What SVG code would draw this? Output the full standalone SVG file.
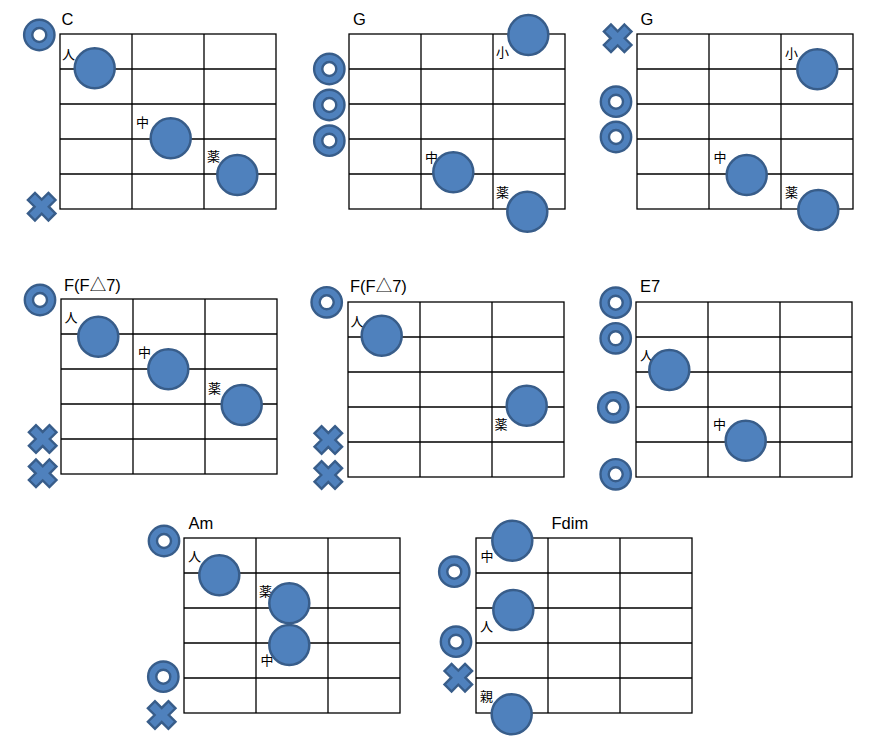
<svg xmlns="http://www.w3.org/2000/svg" xmlns:xlink="http://www.w3.org/1999/xlink" width="876" height="753" viewBox="0 0 876 753">
<style>
.grid{fill:none;stroke:#000;stroke-width:1.3}
.dot{fill:#4F81BD;stroke:#385D8A;stroke-width:2.5}
.mk{fill:#4F81BD;stroke:#385D8A;stroke-width:2.4;fill-rule:evenodd}
.lbl{font-family:"Noto Sans CJK JP","Noto Sans CJK SC",sans-serif;font-size:13px;fill:#000}
.ttl{font-family:"Liberation Sans","DejaVu Sans","Noto Sans CJK JP",sans-serif;font-size:16.5px;fill:#000}
.tri{font-family:"Noto Sans CJK JP",sans-serif}
</style>
<defs>
<g id="grid">
<rect class="grid" x="0" y="0" width="216" height="175"/>
<path class="grid" d="M72,0V175M144,0V175M0,35H216M0,70H216M0,105H216M0,140H216"/>
</g>
<path id="open" class="mk" d="M-15.2,0a15.2,15.2 0 1,0 30.4,0a15.2,15.2 0 1,0 -30.4,0ZM-7,0a7,7 0 1,0 14,0a7,7 0 1,0 -14,0Z"/>
<polygon id="x" class="mk" transform="rotate(45)" points="-5,-14.5 5,-14.5 5,-5 14.5,-5 14.5,5 5,5 5,14.5 -5,14.5 -5,5 -14.5,5 -14.5,-5 -5,-5"/>
</defs>

<g id="chart-C">
<use xlink:href="#grid" x="60" y="34"/>
<text class="ttl" x="61.5" y="25">C</text>
<text class="lbl" x="62" y="58.5">人</text>
<text class="lbl" x="136" y="127">中</text>
<text class="lbl" x="207" y="161">薬</text>
<circle class="dot" cx="94.7" cy="68.3" r="20"/>
<circle class="dot" cx="170.7" cy="138.3" r="20"/>
<circle class="dot" cx="237.3" cy="175" r="20"/>
<use xlink:href="#open" x="39.3" y="35"/>
<use xlink:href="#x" x="41.7" y="206.7"/>
</g>

<g id="chart-G1">
<use xlink:href="#grid" x="349" y="34"/>
<text class="ttl" x="353" y="25">G</text>
<text class="lbl" x="496" y="57">小</text>
<text class="lbl" x="425" y="162">中</text>
<text class="lbl" x="496" y="197">薬</text>
<circle class="dot" cx="528.3" cy="35" r="20"/>
<circle class="dot" cx="453.3" cy="172.3" r="20"/>
<circle class="dot" cx="527.3" cy="211.7" r="20"/>
<use xlink:href="#open" x="329.3" y="69"/>
<use xlink:href="#open" x="329.3" y="105"/>
<use xlink:href="#open" x="329.3" y="140.7"/>
</g>

<g id="chart-G2">
<use xlink:href="#grid" x="637" y="34"/>
<text class="ttl" x="640.5" y="25">G</text>
<text class="lbl" x="785" y="58">小</text>
<text class="lbl" x="713.5" y="162">中</text>
<text class="lbl" x="785" y="197">薬</text>
<circle class="dot" cx="817.3" cy="69.3" r="20"/>
<circle class="dot" cx="746.7" cy="175" r="20"/>
<circle class="dot" cx="818.3" cy="210" r="20"/>
<use xlink:href="#x" x="617.7" y="38.3"/>
<use xlink:href="#open" x="616" y="101.7"/>
<use xlink:href="#open" x="616" y="137"/>
</g>

<g id="chart-F1">
<use xlink:href="#grid" x="61" y="299"/>
<text class="ttl" x="64" y="291">F(F<tspan class="tri">△</tspan>7)</text>
<text class="lbl" x="64.5" y="322">人</text>
<text class="lbl" x="138" y="357">中</text>
<text class="lbl" x="208" y="393">薬</text>
<circle class="dot" cx="98.3" cy="336.7" r="20"/>
<circle class="dot" cx="168.3" cy="369.3" r="20"/>
<circle class="dot" cx="241.7" cy="405" r="20"/>
<use xlink:href="#open" x="40" y="300"/>
<use xlink:href="#x" x="42.7" y="439"/>
<use xlink:href="#x" x="42.7" y="473.3"/>
</g>

<g id="chart-F2">
<use xlink:href="#grid" x="348" y="302"/>
<text class="ttl" x="350" y="292">F(F<tspan class="tri">△</tspan>7)</text>
<text class="lbl" x="350.5" y="326">人</text>
<text class="lbl" x="494.5" y="429">薬</text>
<circle class="dot" cx="381.7" cy="335.7" r="20"/>
<circle class="dot" cx="526.7" cy="405.7" r="20"/>
<use xlink:href="#open" x="326.7" y="302.3"/>
<use xlink:href="#x" x="328.3" y="440"/>
<use xlink:href="#x" x="328.3" y="475"/>
</g>

<g id="chart-E7">
<use xlink:href="#grid" x="636" y="302"/>
<text class="ttl" x="640" y="292">E7</text>
<text class="lbl" x="640" y="359.5">人</text>
<text class="lbl" x="713" y="429">中</text>
<circle class="dot" cx="669.3" cy="370" r="20"/>
<circle class="dot" cx="745.7" cy="440.7" r="20"/>
<use xlink:href="#open" x="615.7" y="302.7"/>
<use xlink:href="#open" x="615.7" y="338.3"/>
<use xlink:href="#open" x="613.3" y="407.3"/>
<use xlink:href="#open" x="615.7" y="474.3"/>
</g>

<g id="chart-Am">
<use xlink:href="#grid" x="184" y="538"/>
<text class="ttl" x="188.5" y="528.5">Am</text>
<text class="lbl" x="188" y="560.5">人</text>
<text class="lbl" x="259" y="595.5">薬</text>
<text class="lbl" x="260.5" y="665">中</text>
<circle class="dot" cx="219.3" cy="575.3" r="20"/>
<circle class="dot" cx="289.3" cy="603.3" r="20"/>
<circle class="dot" cx="289.3" cy="645" r="20"/>
<use xlink:href="#open" x="164" y="541"/>
<use xlink:href="#open" x="163.3" y="676.7"/>
<use xlink:href="#x" x="161.7" y="715"/>
</g>

<g id="chart-Fdim">
<use xlink:href="#grid" x="476" y="538"/>
<text class="ttl" x="551.5" y="528.5">Fdim</text>
<text class="lbl" x="480.5" y="560.5">中</text>
<text class="lbl" x="480" y="631">人</text>
<text class="lbl" x="480" y="700.5">親</text>
<circle class="dot" cx="512.3" cy="540.7" r="20"/>
<circle class="dot" cx="513.3" cy="610" r="20"/>
<circle class="dot" cx="511.7" cy="714.3" r="20"/>
<use xlink:href="#open" x="454.3" y="571.7"/>
<use xlink:href="#open" x="456" y="641.7"/>
<use xlink:href="#x" x="458.3" y="677.7"/>
</g>
</svg>
